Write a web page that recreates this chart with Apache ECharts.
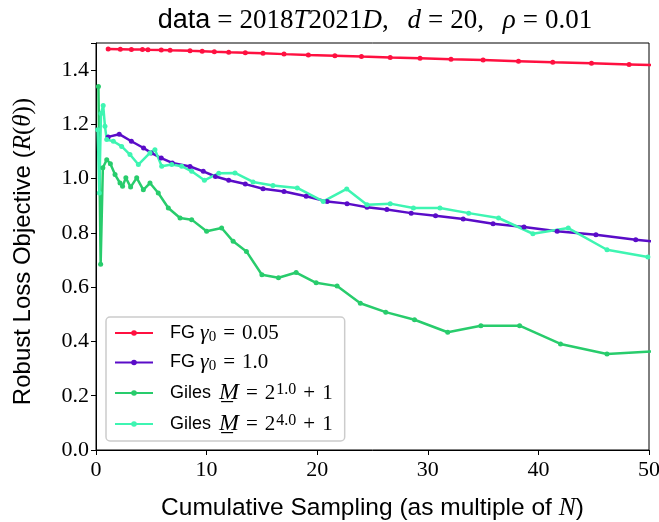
<!DOCTYPE html>
<html>
<head>
<meta charset="utf-8">
<script src="https://cdn.jsdelivr.net/npm/echarts@6/dist/echarts.min.js"></script>
<style>
  html, body { margin: 0; padding: 0; background: #fff; }
  #chart { width: 659px; height: 522px; }
</style>
</head>
<body>
<div id="chart"></div>
<script>
// FG gamma0 = 0.05
const fg005X = [1.1, 2.2, 3.2, 4.2, 4.7, 5.9, 6.7, 8.5, 9.6, 10.7, 12.0, 13.5, 15.1, 17.0, 19.2, 21.6, 24.0, 26.6, 29.3, 32.1, 35.0, 38.2, 41.3, 44.8, 48.2, 51.5];
const fg005Y = [1.478, 1.477, 1.476, 1.476, 1.475, 1.474, 1.473, 1.471, 1.470, 1.468, 1.466, 1.464, 1.462, 1.459, 1.456, 1.453, 1.450, 1.447, 1.444, 1.440, 1.437, 1.433, 1.429, 1.425, 1.421, 1.417];
// FG gamma0 = 1.0
const fg10X = [1.1, 2.1, 3.2, 4.3, 5.0, 5.9, 6.9, 8.5, 9.7, 10.8, 12.0, 13.5, 15.1, 17.0, 19.0, 20.9, 22.7, 24.5, 26.3, 28.5, 30.7, 33.2, 35.9, 38.7, 41.7, 45.2, 48.8, 52.5];
const fg10Y = [1.154, 1.164, 1.138, 1.113, 1.095, 1.076, 1.058, 1.045, 1.027, 1.008, 0.994, 0.980, 0.963, 0.953, 0.935, 0.916, 0.908, 0.895, 0.886, 0.873, 0.863, 0.851, 0.834, 0.822, 0.806, 0.793, 0.775, 0.760];
// Giles M = 2^1 + 1
const giles1X = [0.22, 0.42, 0.62, 0.97, 1.3, 1.72, 2.17, 2.4, 2.7, 3.13, 3.68, 4.28, 4.88, 5.63, 6.54, 7.6, 8.65, 10.0, 11.36, 12.4, 13.6, 15.0, 16.5, 18.1, 19.9, 21.8, 23.9, 26.2, 28.8, 31.8, 34.8, 38.3, 42.0, 46.2, 51.0];
const giles1Y = [1.34, 0.685, 1.04, 1.07, 1.055, 1.015, 0.984, 0.972, 1.003, 0.969, 1.003, 0.959, 0.984, 0.947, 0.892, 0.855, 0.849, 0.806, 0.818, 0.769, 0.732, 0.646, 0.635, 0.654, 0.616, 0.604, 0.541, 0.508, 0.48, 0.434, 0.458, 0.458, 0.391, 0.354, 0.365];
// Giles M = 2^4 + 1
const giles4X = [0.15, 0.3, 0.45, 0.65, 0.81, 0.97, 1.57, 2.32, 3.07, 3.83, 4.88, 5.33, 5.94, 6.85, 7.75, 8.65, 9.8, 11.1, 12.57, 14.2, 16.0, 18.2, 20.55, 22.67, 24.5, 26.6, 28.7, 31.1, 33.7, 36.4, 39.5, 42.7, 46.2, 49.9];
const giles4Y = [1.18, 0.947, 1.24, 1.27, 1.193, 1.144, 1.138, 1.119, 1.089, 1.052, 1.095, 1.107, 1.046, 1.052, 1.046, 1.027, 0.994, 1.02, 1.021, 0.988, 0.975, 0.966, 0.916, 0.962, 0.904, 0.908, 0.892, 0.892, 0.873, 0.855, 0.797, 0.818, 0.738, 0.711];

const seriesNames = ['FG γ0 = 0.05', 'FG γ0 = 1.0', 'Giles M = 2^1.0 + 1', 'Giles M = 2^4.0 + 1'];
const seriesColors = ['#ff1040', '#5a0cc8', '#28cc6c', '#3ef5b2'];
const legendRich = [
  '{s|FG }{m|γ}{sub|0}{e|=}{n|0.05}',
  '{s|FG }{m|γ}{sub|0}{e|=}{n|1.0}',
  '{s|Giles }{bm|M̲}{e|=}{n|2}{sup|1.0}{e|+}{n|1}',
  '{s|Giles }{bm|M̲}{e|=}{n|2}{sup|4.0}{e|+}{n|1}'
];

const SERIF = '"Liberation Serif", "DejaVu Serif", serif';
const SANS = '"Liberation Sans", Arial, sans-serif';

function pairs(xs, ys) {
  return xs.map((x, i) => [x, ys[i]]);
}

const allData = [pairs(fg005X, fg005Y), pairs(fg10X, fg10Y), pairs(giles1X, giles1Y), pairs(giles4X, giles4Y)];

const chart = echarts.init(document.getElementById('chart'));

const option = {
  animation: false,
  title: {
    text: '{s|data}{e|=}{n|2018}{m|T}{n|2021}{m|D}{n|,}{g| }{m|d}{e|=}{n|20,}{g| }{m|ρ}{e|=}{n|0.01}',
    left: 370,
    textAlign: 'center',
    top: 2,
    textStyle: {
      fontWeight: 'normal',
      rich: {
        s: { fontFamily: SANS, fontSize: 27, fontWeight: 'normal', color: '#000' },
        n: { fontFamily: SERIF, fontSize: 27, fontWeight: 'normal', color: '#000' },
        e: { fontFamily: SERIF, fontSize: 27, fontWeight: 'normal', color: '#000', padding: [0, 7, 0, 7] },
        g: { fontFamily: SERIF, fontSize: 27, fontWeight: 'normal', color: '#000', padding: [0, 6, 0, 6] },
        m: { fontFamily: SERIF, fontSize: 27, fontWeight: 'normal', fontStyle: 'italic', color: '#000' }
      }
    }
  },
  grid: {
    left: 96, right: 10, top: 43, bottom: 72,
    outerBoundsMode: 'none',
    containLabel: false,
    show: true, borderColor: '#000', borderWidth: 1
  },
  legend: {
    orient: 'vertical',
    left: 106,
    top: 317,
    itemWidth: 38,
    itemHeight: 7,
    itemGap: 7,
    padding: [5, 12, 5, 8],
    backgroundColor: '#fff',
    borderColor: '#ccc',
    borderWidth: 1.5,
    borderRadius: 4,
    data: seriesNames,
    formatter: function (name) {
      return legendRich[seriesNames.indexOf(name)];
    },
    textStyle: {
      rich: {
        s: { fontFamily: SANS, fontSize: 18, color: '#000', lineHeight: 23, padding: [0, 0, 0, 12] },
        n: { fontFamily: SERIF, fontSize: 21, color: '#000', lineHeight: 23 },
        e: { fontFamily: SERIF, fontSize: 21, color: '#000', lineHeight: 23, padding: [0, 7, 0, 7] },
        m: { fontFamily: SERIF, fontSize: 22, fontStyle: 'italic', color: '#000', lineHeight: 23 },
        bm: { fontFamily: SERIF, fontSize: 24, fontStyle: 'italic', color: '#000', lineHeight: 23, padding: [0, 0, 0, 3] },
        sub: { fontFamily: SERIF, fontSize: 15, color: '#000', verticalAlign: 'bottom', lineHeight: 17 },
        sup: { fontFamily: SERIF, fontSize: 16, color: '#000', verticalAlign: 'top', lineHeight: 14, padding: [0, 0, 0, 1] }
      }
    }
  },
  xAxis: {
    type: 'value',
    min: 0, max: 50, interval: 10,
    name: '{s|Cumulative Sampling (as multiple of }{m|N}{s|)}',
    nameLocation: 'middle',
    nameGap: 45,
    nameTextStyle: {
      rich: {
        s: { fontFamily: SANS, fontSize: 24.5, color: '#000' },
        m: { fontFamily: SERIF, fontSize: 25.5, fontStyle: 'italic', color: '#000' }
      }
    },
    splitLine: { show: false },
    axisLine: { lineStyle: { color: '#000', width: 1 } },
    axisTick: { show: true, length: 5, lineStyle: { color: '#000' } },
    axisLabel: { fontFamily: SERIF, fontSize: 22, color: '#000', margin: 9 }
  },
  yAxis: {
    type: 'value',
    min: 0, max: 1.5, interval: 0.2,
    name: '{s|Robust Loss Objective (}{m|R}{n|(}{m|θ}{n|))}',
    nameLocation: 'middle',
    nameGap: 60,
    nameRotate: 90,
    nameTextStyle: {
      padding: [0, 10, 0, 0],
      rich: {
        s: { fontFamily: SANS, fontSize: 24, color: '#000' },
        n: { fontFamily: SERIF, fontSize: 25, color: '#000' },
        m: { fontFamily: SERIF, fontSize: 25, fontStyle: 'italic', color: '#000' }
      }
    },
    splitLine: { show: false },
    axisLine: { show: true, lineStyle: { color: '#000', width: 1 } },
    axisTick: { show: true, length: 5, lineStyle: { color: '#000' } },
    axisLabel: {
      fontFamily: SERIF, fontSize: 22, color: '#000', margin: 7,
      formatter: function (v) { return v > 1.45 ? '' : v.toFixed(1); }
    }
  },
  series: allData.map((d, i) => ({
    name: seriesNames[i],
    type: 'line',
    data: d,
    color: seriesColors[i],
    symbol: 'circle',
    symbolSize: 5,
    showSymbol: true,
    clip: true,
    lineStyle: { width: 2.5, color: seriesColors[i] },
    itemStyle: { color: seriesColors[i] },
    emphasis: { disabled: true }
  }))
};

chart.setOption(option);
</script>
</body>
</html>
